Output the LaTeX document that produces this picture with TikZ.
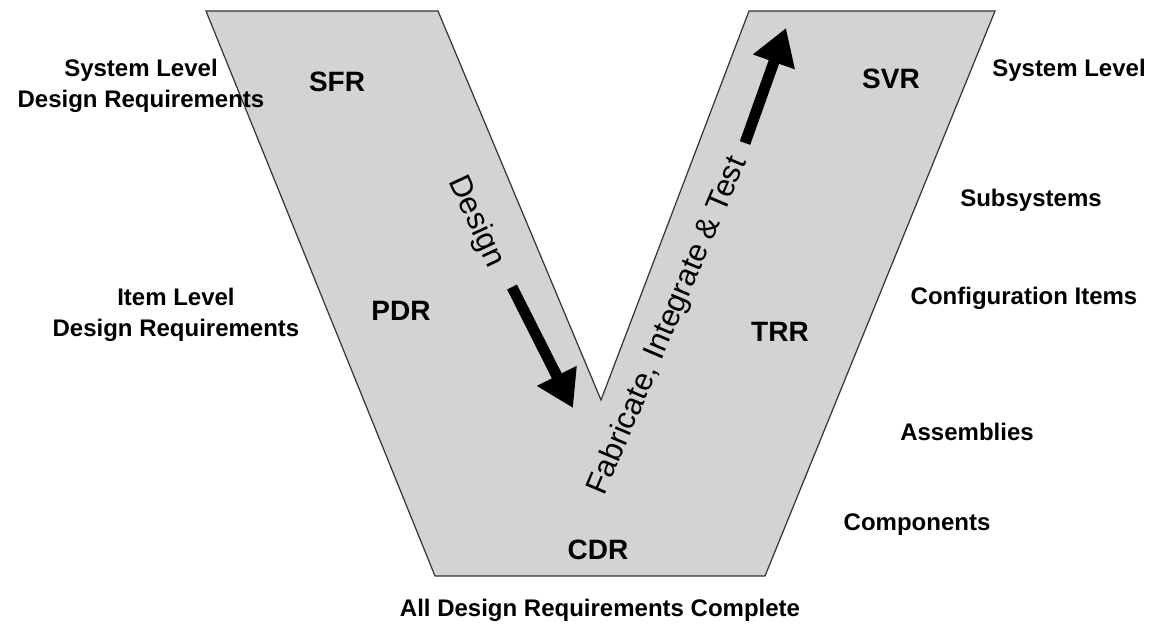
\documentclass[tikz,border=0pt]{standalone}
\usepackage{fontspec}
\setmainfont{Liberation Sans}
\usetikzlibrary{arrows.meta}
\definecolor{vgray}{RGB}{211,211,211}
\tikzset{
  review/.style={font=\fontsize{28}{32}\selectfont\bfseries},
  level/.style={font=\fontsize{24}{31}\selectfont\bfseries,align=center},
  phase/.style={font=\fontsize{31}{34}\selectfont},
  bigarrow/.style={line width=11pt,-{Triangle[length=36pt,width=42pt]}}
}

\begin{document}
\begin{tikzpicture}[x=1pt,y=-1pt]
\useasboundingbox (0,0) rectangle (1150,624);
\filldraw[fill=vgray,draw=black!80,line width=1.2pt]
(206,11) -- (438,11) -- (601,400) -- (749,11) -- (995,11) -- (765,576) -- (435,576) -- cycle;

\node[review] (sfr) at (337,82) {SFR};
\node[review] (pdr) at (401,311) {PDR};
\node[review] (cdr) at (598,550) {CDR};
\node[review] (trr) at (780,332) {TRR};
\node[review] (svr) at (891,79) {SVR};

\node[level] (sysreq) at (141,86) {System Level\\Design Requirements};
\node[level] (itemreq) at (176,315) {Item Level\\Design Requirements};
\node[level] (allreq) at (600,610) {All Design Requirements Complete};
\node[level] (syslev) at (1069,70) {System Level};
\node[level] (subsys) at (1031,200) {Subsystems};
\node[level] (ci) at (1024,298) {Configuration Items};
\node[level] (assy) at (967,432) {Assemblies};
\node[level] (comp) at (917,525) {Components};

\node[phase,rotate=-65] (design) at (476,222) {Design};
\node[phase,rotate=67] (fit) at (668,326) {Fabricate, Integrate \& Test};

\coordinate (dtail) at (512,287);
\coordinate (dtip) at (573,408);
\coordinate (ftail) at (745,143);
\coordinate (ftip) at (786,28);
\draw[bigarrow] (dtail) -- (dtip);
\draw[bigarrow] (ftail) -- (ftip);
\end{tikzpicture}
\end{document}
